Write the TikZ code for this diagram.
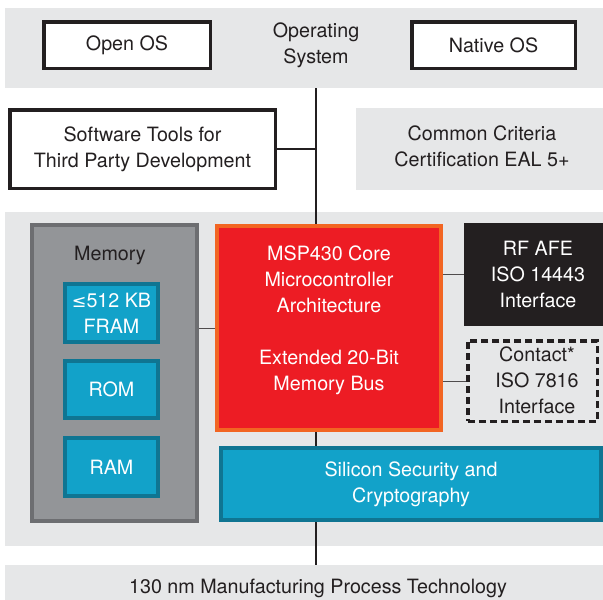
\documentclass[tikz,border=0pt]{standalone}
\usepackage{fontspec}
\setmainfont{TeX Gyre Heros}
\newfontfamily\symfont{DejaVu Sans}
\definecolor{bandgray}{HTML}{E6E7E8}
\definecolor{memfill}{HTML}{939598}
\definecolor{memedge}{HTML}{6D6E71}
\definecolor{cyanfill}{HTML}{12A2C9}
\definecolor{cyanedge}{HTML}{0F7592}
\definecolor{corered}{HTML}{ED1C24}
\definecolor{coreedge}{HTML}{F26522}
\definecolor{inkblack}{HTML}{231F20}
\begin{document}
\begin{tikzpicture}[x=1pt,y=-1pt,
  font=\fontsize{19.7}{26}\selectfont,
  every node/.style={inner sep=0pt, align=center, text=inkblack},
  band/.style={fill=bandgray, draw=none},
  blackbox/.style={draw=inkblack, line width=3.5pt, fill=white},
  graybox/.style={fill=bandgray, draw=none},
  membox/.style={fill=memfill, draw=memedge, line width=4pt},
  cyanbox/.style={fill=cyanfill, draw=cyanedge, line width=4pt, text=white},
  corebox/.style={fill=corered, draw=coreedge, line width=4pt},
  darkbox/.style={fill=inkblack, draw=none, text=white},
  dashbox/.style={fill=bandgray, draw=inkblack, line width=3.5pt, dash pattern=on 7pt off 4pt},
  spine/.style={draw=inkblack, line width=2.5pt},
  link/.style={draw=inkblack, line width=1.2pt},
  thinlink/.style={draw=inkblack!80, line width=1pt}
]
\useasboundingbox (0,0) rectangle (603,600);
\clip (0,0) rectangle (603,600);

% background bands
\node[band, anchor=north west, minimum width=598, minimum height=80] (osband) at (5,8) {};
\node[band, anchor=north west, minimum width=598, minimum height=334] (chipband) at (5,212) {};
\node[band, anchor=north west, minimum width=598, minimum height=40] (procband) at (5,565) {};

% spine
\coordinate (spinetop) at (316,88);
\coordinate (spinebot) at (316,565);
\draw[spine] (spinetop) -- (spinebot);

% top row
\node[blackbox, minimum width=166.5, minimum height=46.5] (openos) at (127,45) {Open OS};
\node (ostext) at (316,45) {Operating\\System};
\node[blackbox, minimum width=163.5, minimum height=46.5] (nativeos) at (493.5,45) {Native OS};

% second row
\node[blackbox, minimum width=265.5, minimum height=78.5] (soft) at (142.5,149) {Software Tools for\\Third Party Development};
\node[graybox, minimum width=248, minimum height=82] (cc) at (480,149) {};
\node (cctext) at (482,146) {Common Criteria\\Certification EAL 5+};
\draw[link] (soft.east) -- (soft.east -| spinetop);

% memory
\node[membox, minimum width=165, minimum height=296] (mem) at (114.5,373) {};
\node (memtext) at (110,255) {Memory};
\node[cyanbox, minimum width=93, minimum height=58] (fram) at (111.5,313) {{\symfont\fontsize{17.5}{26}\selectfont ≤}512 KB\\FRAM};
\node[cyanbox, minimum width=93, minimum height=57] (rom) at (111.5,389.5) {ROM};
\node[cyanbox, minimum width=93, minimum height=58] (ram) at (111.5,467) {RAM};

% core
\node[corebox, minimum width=224, minimum height=204] (core) at (329,328) {};
\node[text=white] (coretext) at (329,320) {MSP430 Core\\Microcontroller\\Architecture\\[26pt]Extended 20-Bit\\Memory Bus};

% interfaces
\node[darkbox, minimum width=148, minimum height=103] (rf) at (538,274.5) {RF AFE\\ISO 14443\\Interface};
\node[dashbox, minimum width=129.5, minimum height=80.5] (contact) at (532.5,381) {};
\node (contacttext) at (537,380) {Contact*\\ISO 7816\\Interface};

% security
\node[cyanbox, minimum width=380, minimum height=72] (sec) at (411,484) {Silicon Security and\\Cryptography};

% process
\node (proctext) at (318,588) {130 nm Manufacturing Process Technology};

% connectors
\draw[thinlink] (core.west) -- (core.west -| mem.east);
\draw[thinlink] (rf.west) -- (rf.west -| core.east);
\draw[thinlink] (contact.west) -- (contact.west -| core.east);
\end{tikzpicture}
\end{document}
